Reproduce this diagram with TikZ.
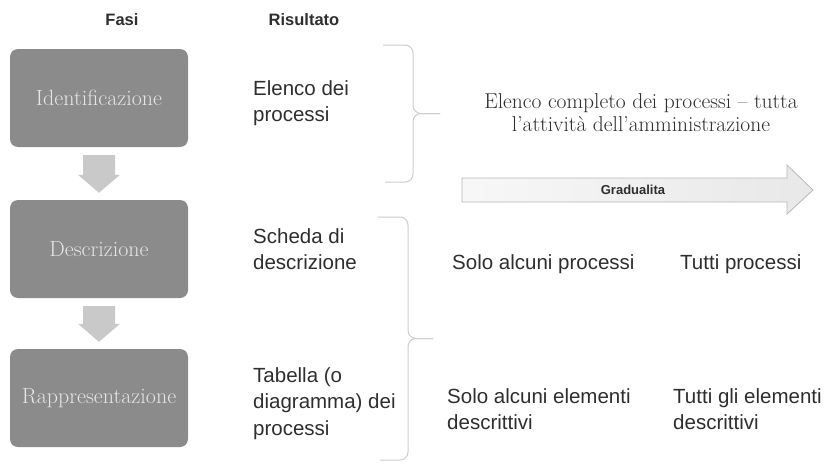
\documentclass[tikz,border=0pt]{standalone}
\usepackage{fontspec}
\usepackage{tikz}
\usetikzlibrary{calc}
\newfontfamily\arialfont{Liberation Sans}

\definecolor{boxgrey}{HTML}{8B8B8B}
\definecolor{arrowgrey}{HTML}{C9C9C9}
\definecolor{bracegrey}{HTML}{CDCDCD}
\definecolor{txtgrey}{HTML}{2E2E2E}

\tikzset{
	fasebox/.style={fill=boxgrey, rounded corners=8pt, minimum width=178pt, minimum height=98pt, text=white!90!black, font=\fontsize{22}{26}\selectfont},
	restext/.style={anchor=north west, inner sep=0pt, align=left, text=txtgrey, font=\arialfont\fontsize{20.5}{26.5}\selectfont},
	header/.style={anchor=base, inner sep=0pt, text=txtgrey, font=\arialfont\bfseries\fontsize{16.5}{19}\selectfont},
	flowarrow/.style={fill=arrowgrey},
	bracket/.style={draw=bracegrey, line width=1pt, rounded corners=8pt}
}

\begin{document}
\begin{tikzpicture}[x=1pt, y=-1pt]
	\useasboundingbox (0,0) rectangle (832,463);

	\node [header] (fasi) at (122,25) {Fasi};
	\node [header] (risultato) at (304,25) {Risultato};

	\foreach \n/\y/\t in {ident/98/Identificazione, descr/249/Descrizione, rappr/398/Rappresentazione}{
		\node [fasebox] (\n) at (99,\y) {\t};
	}

	\foreach \a/\b in {ident/descr, descr/rappr}{
		\fill [flowarrow] ($(\a.south)+(-16,8)$) -- ($(\a.south)+(16,8)$) -- ($(\b.north)+(16,-25)$) -- ($(\b.north)+(21,-25)$) -- ($(\b.north)+(0,-7)$) -- ($(\b.north)+(-21,-25)$) -- ($(\b.north)+(-16,-25)$) -- cycle;
	}

	\node [restext] (resident) at (253,80) {Elenco dei\\processi};
	\node [restext] (resdescr) at (253,228) {Scheda di\\descrizione};
	\node [restext] (resrappr) at (253,367) {Tabella (o\\diagramma) dei\\processi};

	% graffe
	\foreach \t/\b/\x/\tip in {45/182/413/440, 217/460/408/433}{
		\draw [bracket] (\x-30,\t) -- (\x,\t) -- (\x,{(\t+\b)/2}) -- (\tip,{(\t+\b)/2});
		\draw [bracket] (\x-28,\b) -- (\x,\b) -- (\x,{(\t+\b)/2}) -- (\tip,{(\t+\b)/2});
	}

	\node [align=center, text=txtgrey, font=\fontsize{21.5}{23}\selectfont] (complete) at (641,113) {Elenco completo dei processi -- tutta\\l'attivit\`a dell'amministrazione};

	\draw [draw=black!28, line width=0.8pt, left color=black!3, right color=black!9] (462,178) -- (787,178) -- (787,165) -- (813,190) -- (787,214) -- (787,202) -- (462,202) -- cycle;
	\node [text=txtgrey, font=\arialfont\bfseries\fontsize{13}{15}\selectfont] (grad) at (633,190) {Gradualita};

	\node [restext] (soloproc) at (452,254) {Solo alcuni processi};
	\node [restext] (tuttiproc) at (680,254) {Tutti processi};
	\node [restext] (soloelem) at (447,388) {Solo alcuni elementi\\descrittivi};
	\node [restext] (tuttielem) at (673,388) {Tutti gli elementi\\descrittivi};

\end{tikzpicture}
\end{document}
